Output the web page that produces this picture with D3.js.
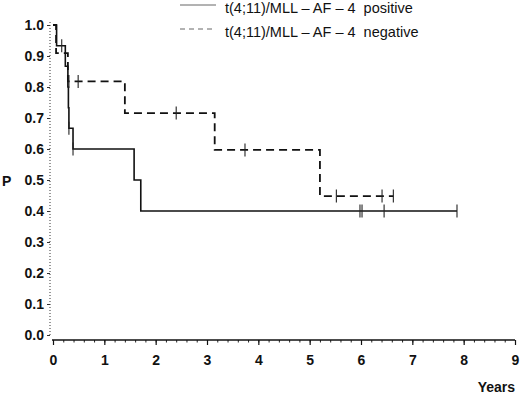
<!DOCTYPE html>
<html>
<head>
<meta charset="utf-8">
<script src="https://cdn.jsdelivr.net/npm/d3@7"></script>
<style>
    body { margin: 0; background: #fff; }
    svg { font-family: "Liberation Sans", Arial, Helvetica, sans-serif; }
</style>
</head>
<body>
<div id="chart"></div>
<script>
// Kaplan-Meier steps (years, survival probability)
const posTimes = [0, 0.07, 0.24, 0.29, 0.30, 0.31, 0.39, 1.58, 1.71, 7.87];
const posSurv = [1.0, 0.933, 0.867, 0.8, 0.733, 0.667, 0.6, 0.5, 0.4, 0.4];
const posCensor = [0.17, 0.31, 0.39, 5.98, 6.02, 6.45, 7.87];

const negTimes = [0, 0.06, 0.29, 1.40, 3.15, 5.20, 6.63];
const negSurv = [1.0, 0.909, 0.818, 0.716, 0.597, 0.448, 0.448];
const negCensor = [0.31, 0.49, 2.40, 3.74, 5.52, 6.41, 6.63];

const xTicks = [0, 1, 2, 3, 4, 5, 6, 7, 8, 9];
const yTicks = [0, 0.1, 0.2, 0.3, 0.4, 0.5, 0.6, 0.7, 0.8, 0.9, 1.0];
const legendLabels = ["t(4;11)/MLL \u2013 AF \u2013 4  positive", "t(4;11)/MLL \u2013 AF \u2013 4  negative"];

const width = 520, height = 394;

const svg = d3.select("#chart").append("svg")
    .attr("width", width)
    .attr("height", height);

// scales
const x = d3.scaleLinear().domain([0, 9]).range([53, 515]);
const y = d3.scaleLinear().domain([0, 1]).range([335, 25]);

// x axis, minor ticks first
svg.append("g")
    .attr("transform", "translate(0,340)")
    .call(d3.axisBottom(x).tickValues(d3.range(0, 9.01, 0.2)).tickSize(2.5).tickFormat(""))
    .call(g => g.select(".domain").remove())
    .selectAll("line").attr("stroke", "#222");

const xAxis = svg.append("g")
    .attr("transform", "translate(0,340)")
    .call(d3.axisBottom(x).tickValues(xTicks).tickSize(5).tickSizeOuter(0));
xAxis.select(".domain").attr("stroke", "#111").attr("stroke-width", 1.3)
    .attr("d", `M${x(0) - 1},0H${x(9)}`);
xAxis.selectAll(".tick line").attr("stroke", "#111").attr("stroke-width", 1.2);
xAxis.selectAll("text")
    .attr("y", 25).attr("dy", null)
    .attr("fill", "#111")
    .style("font-size", "14px").style("font-weight", "bold");

// y axis, dotted
const yAxis = svg.append("g")
    .attr("transform", "translate(50,0)")
    .call(d3.axisLeft(y).tickValues(yTicks).tickSize(3).tickSizeOuter(0).tickFormat(d3.format(".1f")));
yAxis.select(".domain").attr("stroke", "#333").attr("stroke-dasharray", "1,2")
    .attr("d", `M0,${y(1) - 3}V${y(0) + 2}`);
yAxis.selectAll(".tick line").attr("stroke", "#333");
yAxis.selectAll("text")
    .attr("x", -6)
    .attr("fill", "#111")
    .style("font-size", "14px").style("font-weight", "bold");

// axis titles
svg.append("text").attr("x", 2).attr("y", 186)
    .style("font-size", "14px").style("font-weight", "bold").attr("fill", "#111")
    .text("P");
svg.append("text").attr("x", 515).attr("y", 392).attr("text-anchor", "end")
    .style("font-size", "14px").style("font-weight", "bold").attr("fill", "#111")
    .text("Years");

// step curves
function stepPoints(times, surv) {
    return times.map((t, i) => [t, surv[i]]);
}
function levelAt(times, surv, t) {
    let v = surv[0];
    times.forEach((tt, i) => { if (tt <= t) v = surv[i]; });
    return v;
}

const line = d3.line()
    .x(d => x(d[0]))
    .y(d => y(d[1]))
    .curve(d3.curveStepAfter);

svg.append("path")
    .datum(stepPoints(negTimes, negSurv))
    .attr("fill", "none")
    .attr("stroke", "#111")
    .attr("stroke-width", 1.8)
    .attr("stroke-dasharray", "8,5")
    .attr("d", line);

svg.append("path")
    .datum(stepPoints(posTimes, posSurv))
    .attr("fill", "none")
    .attr("stroke", "#111")
    .attr("stroke-width", 1.6)
    .attr("d", line);

// censoring marks
function drawCensor(times, surv, censor) {
    svg.append("g").selectAll("line")
        .data(censor)
        .join("line")
        .attr("x1", d => x(d)).attr("x2", d => x(d))
        .attr("y1", d => y(levelAt(times, surv, d)) - 6.5)
        .attr("y2", d => y(levelAt(times, surv, d)) + 6.5)
        .attr("stroke", "#222")
        .attr("stroke-width", 1.1);
}
drawCensor(posTimes, posSurv, posCensor);
drawCensor(negTimes, negSurv, negCensor);

// legend
const legend = svg.append("g");
legend.append("line")
    .attr("x1", 180).attr("x2", 216).attr("y1", 5).attr("y2", 5)
    .attr("stroke", "#666").attr("stroke-width", 1);
legend.append("line")
    .attr("x1", 180).attr("x2", 216).attr("y1", 29).attr("y2", 29)
    .attr("stroke", "#666").attr("stroke-width", 1).attr("stroke-dasharray", "5,4");
legend.selectAll("text")
    .data(legendLabels)
    .join("text")
    .attr("x", 225)
    .attr("y", (d, i) => 13 + i * 24)
    .attr("fill", "#111")
    .style("font-size", "14.5px")
    .style("white-space", "pre")
    .text(d => d);
</script>
</body>
</html>
